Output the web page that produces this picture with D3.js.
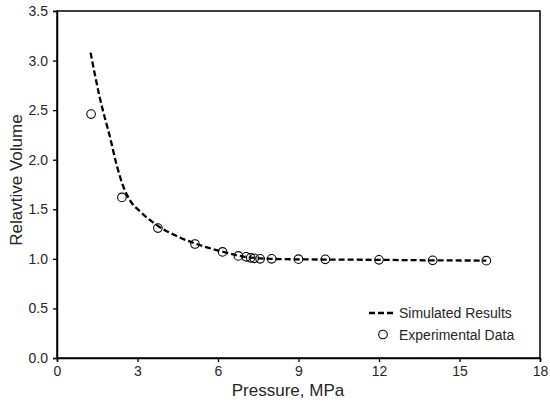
<!DOCTYPE html>
<html>
<head>
<meta charset="utf-8">
<script src="https://cdn.jsdelivr.net/npm/d3@7"></script>
<style>
  body { margin: 0; background: #fff; }
  text { font-family: "Liberation Sans", Arial, sans-serif; fill: #262626; }
</style>
</head>
<body>
<svg id="chart" width="550" height="406"></svg>
<script>
// simulated curve
var simPressure = [1.25, 1.6, 2.0, 2.22, 2.47, 2.72, 3.09, 3.72, 4.46, 5.2, 6.2, 7.0, 8.0, 9, 10, 12, 14, 16];
var simVolume   = [3.08, 2.62, 2.20, 1.95, 1.73, 1.59, 1.48, 1.34, 1.23, 1.15, 1.07, 1.02, 1.0, 0.995, 0.993, 0.99, 0.985, 0.983];

// experimental points
var expPressure = [1.27, 2.42, 3.76, 5.14, 6.17, 6.76, 7.05, 7.22, 7.35, 7.57, 8.0, 9, 10, 12, 14, 16];
var expVolume   = [2.46, 1.62, 1.31, 1.15, 1.07, 1.03, 1.02, 1.01, 1.005, 1.0, 1.0, 0.997, 0.995, 0.99, 0.985, 0.982];

var xTicks = [0, 3, 6, 9, 12, 15, 18];
var yTicks = [0, 0.5, 1.0, 1.5, 2.0, 2.5, 3.0, 3.5];

var svg = d3.select("#chart");
var plotLeft = 57, plotRight = 540, plotTop = 11, plotBottom = 358;

var x = d3.scaleLinear().domain([0, 18]).range([plotLeft, plotRight]);
var y = d3.scaleLinear().domain([0, 3.5]).range([plotBottom, plotTop]);

// frame
svg.append("rect")
  .attr("x", plotLeft).attr("y", plotTop)
  .attr("width", plotRight - plotLeft).attr("height", plotBottom - plotTop)
  .attr("fill", "none").attr("stroke", "#000").attr("stroke-width", 1.5);

// axes
var xAxis = svg.append("g")
  .attr("transform", "translate(0," + plotBottom + ")")
  .call(d3.axisBottom(x).tickValues(xTicks).tickSize(4).tickPadding(4).tickFormat(d3.format("d")));
var yAxis = svg.append("g")
  .attr("transform", "translate(" + plotLeft + ",0)")
  .call(d3.axisLeft(y).tickValues(yTicks).tickSize(4).tickPadding(5).tickFormat(d3.format(".1f")));

[xAxis, yAxis].forEach(function(g) {
  g.select(".domain").attr("stroke", "#000").attr("stroke-width", 1.5);
  g.selectAll(".tick line").attr("stroke", "#000").attr("stroke-width", 1.3);
  g.selectAll(".tick text").style("font-size", "14px").attr("fill", "#262626")
    .style("font-family", "'Liberation Sans', Arial, sans-serif");
});

// simulated line
var simData = simPressure.map(function(p, i) { return [p, simVolume[i]]; });
var line = d3.line()
  .x(function(d) { return x(d[0]); })
  .y(function(d) { return y(d[1]); })
  .curve(d3.curveMonotoneX);

svg.append("path")
  .datum(simData)
  .attr("d", line)
  .attr("fill", "none")
  .attr("stroke", "#000")
  .attr("stroke-width", 2.3)
  .attr("stroke-dasharray", "6,3");

// experimental circles
var expData = expPressure.map(function(p, i) { return [p, expVolume[i]]; });
svg.selectAll("circle.exp")
  .data(expData)
  .enter().append("circle")
  .attr("class", "exp")
  .attr("cx", function(d) { return x(d[0]); })
  .attr("cy", function(d) { return y(d[1]); })
  .attr("r", 4.3)
  .attr("fill", "none")
  .attr("stroke", "#000")
  .attr("stroke-width", 1.1);

// axis titles
svg.append("text")
  .attr("x", 288).attr("y", 396)
  .attr("text-anchor", "middle")
  .style("font-size", "17px")
  .text("Pressure, MPa");

svg.append("text")
  .attr("transform", "translate(22,180) rotate(-90)")
  .attr("text-anchor", "middle")
  .style("font-size", "17px")
  .text("Relavtive Volume");

// legend
var legend = svg.append("g");
legend.append("line")
  .attr("x1", 369).attr("x2", 395)
  .attr("y1", 313).attr("y2", 313)
  .attr("stroke", "#000").attr("stroke-width", 2.3)
  .attr("stroke-dasharray", "6,3");
legend.append("text")
  .attr("x", 399).attr("y", 318)
  .style("font-size", "14px")
  .text("Simulated Results");
legend.append("circle")
  .attr("cx", 383).attr("cy", 334.5).attr("r", 4.3)
  .attr("fill", "none").attr("stroke", "#000").attr("stroke-width", 1.1);
legend.append("text")
  .attr("x", 399).attr("y", 339.5)
  .style("font-size", "14px")
  .text("Experimental Data");
</script>
</body>
</html>
